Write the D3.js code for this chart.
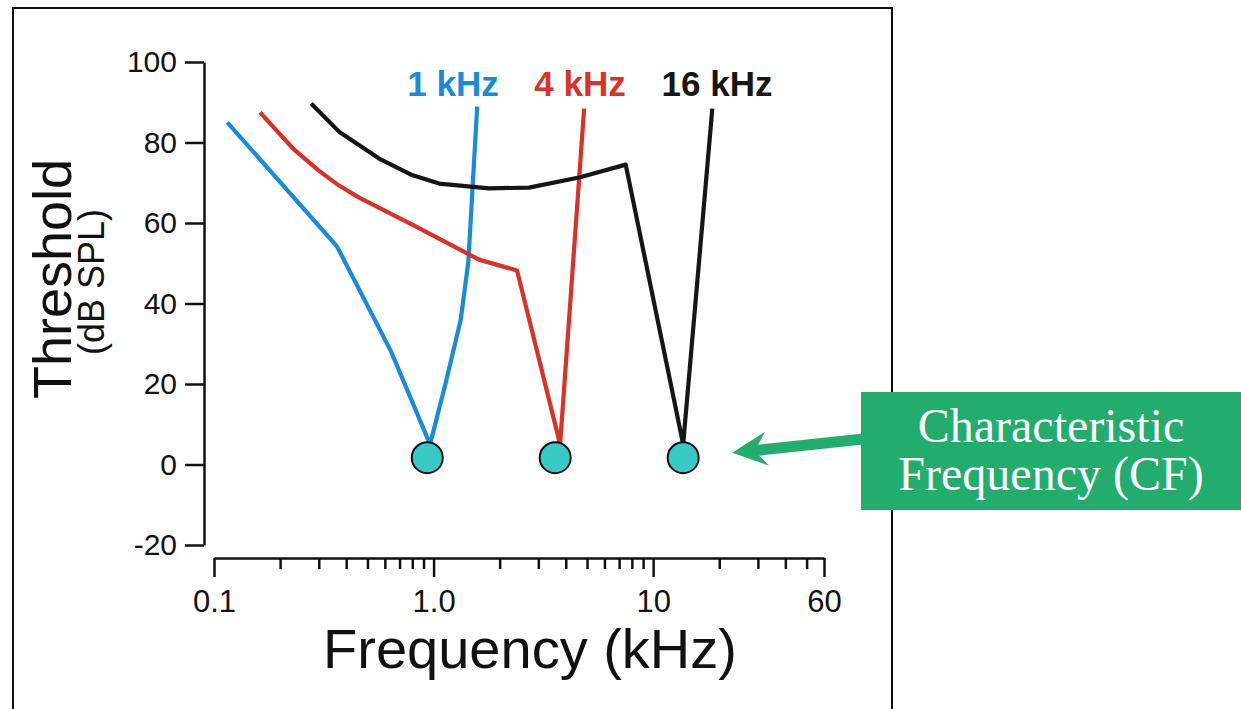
<!DOCTYPE html>
<html>
<head>
<meta charset="utf-8">
<script src="https://cdn.jsdelivr.net/npm/d3@7"></script>
<style>
  body { margin: 0; background: #fff; }
  svg { display: block; font-family: "Liberation Sans", Arial, Helvetica, sans-serif; }
</style>
</head>
<body>
<div class="container"></div>
<script>
const w = 1241;
const h = 709;

// tuning curve data (kHz, dB SPL)
const curveNames = ['1 kHz', '4 kHz', '16 kHz'];
const curveColors = ['#1a8bd8', '#d8322a', '#161616'];

const freq1k = [0.115, 0.363, 0.64, 0.964, 1.14, 1.33, 1.44, 1.58];
const db1k   = [85.0, 54.2, 28.1, 5.0, 20.6, 36.0, 50.4, 88.9];

const freq4k = [0.162, 0.229, 0.300, 0.371, 0.458, 0.80, 1.61, 2.40, 3.77, 4.85];
const db4k   = [87.5, 78.5, 73.0, 69.3, 66.3, 59.6, 50.9, 48.2, 5.0, 88.4];

const freq16k = [0.277, 0.371, 0.565, 0.79, 1.06, 1.79, 2.72, 4.6, 7.5, 13.7, 18.6];
const db16k   = [89.7, 82.7, 76.0, 72.0, 69.8, 68.6, 68.8, 71.3, 74.5, 5.0, 88.4];

// characteristic frequency markers
const cfFreq = [0.936, 3.58, 13.7];
const cfDb   = [1.7, 1.7, 1.7];

// axis ticks
const yTicks = [-20, 0, 20, 40, 60, 80, 100];
const xMajorTicks = [0.1, 1, 10, 60];
const xMajorLabels = ['0.1', '1.0', '10', '60'];
const xMinorTicks = [0.2, 0.3, 0.4, 0.5, 0.6, 0.7, 0.8, 0.9,
                     2, 3, 4, 5, 6, 7, 8, 9, 20, 30, 40, 50];

const series = [
  {f: freq1k, db: db1k},
  {f: freq4k, db: db4k},
  {f: freq16k, db: db16k}
];

const svg = d3.select('.container')
              .append('svg')
              .attr('width', w)
              .attr('height', h);

// outer frame
svg.append('rect')
   .attr('x', 13).attr('y', 8)
   .attr('width', 879).attr('height', 720)
   .style('fill', 'none')
   .style('stroke', '#111')
   .style('stroke-width', 2);

const xScale = d3.scaleLog()
                 .domain([0.1, 60])
                 .range([214, 824]);
const yScale = d3.scaleLinear()
                 .domain([-20, 100])
                 .range([545, 62]);

// y axis
const yAxis = d3.axisLeft(yScale)
                .tickValues(yTicks)
                .tickFormat(d => String(d))
                .tickSize(19)
                .tickSizeOuter(0)
                .tickPadding(8);
const gy = svg.append('g')
              .attr('transform', 'translate(204,0)')
              .call(yAxis);

// x axis (major then minor ticks)
const xAxis = d3.axisBottom(xScale)
                .tickValues(xMajorTicks)
                .tickFormat((d, i) => xMajorLabels[i])
                .tickSize(19)
                .tickSizeOuter(0)
                .tickPadding(13);
const gx = svg.append('g')
              .attr('transform', 'translate(0,558)')
              .call(xAxis);
const xMinor = d3.axisBottom(xScale)
                 .tickValues(xMinorTicks)
                 .tickFormat('')
                 .tickSize(11)
                 .tickSizeOuter(0);
const gxm = svg.append('g')
               .attr('transform', 'translate(0,558)')
               .call(xMinor);
gxm.select('.domain').remove();

[gy, gx, gxm].forEach(g => {
  g.selectAll('path, line').style('stroke', '#111').style('stroke-width', 2.5);
  g.selectAll('text').style('fill', '#111')
   .style('font-family', '"Liberation Sans", Arial, sans-serif');
});
gy.selectAll('text').style('font-size', '30px');
gx.selectAll('text').style('font-size', '31px');

// axis titles
svg.append('text')
   .text('Threshold')
   .attr('transform', 'translate(71,279) rotate(-90)')
   .attr('text-anchor', 'middle')
   .style('font-size', '54px')
   .style('fill', '#111');
svg.append('text')
   .text('(dB SPL)')
   .attr('transform', 'translate(104,282) rotate(-90)')
   .attr('text-anchor', 'middle')
   .style('font-size', '36px')
   .style('fill', '#111');
svg.append('text')
   .text('Frequency (kHz)')
   .attr('x', 530).attr('y', 668)
   .attr('text-anchor', 'middle')
   .style('font-size', '56px')
   .style('fill', '#111');

// curves
const line = d3.line()
               .x(d => xScale(d[0]))
               .y(d => yScale(d[1]));

svg.selectAll('path.curve')
   .data(series)
   .enter()
   .append('path')
   .attr('class', 'curve')
   .attr('d', s => line(s.f.map((f, i) => [f, s.db[i]])))
   .style('fill', 'none')
   .style('stroke', (s, i) => curveColors[i])
   .style('stroke-width', 4.2)
   .style('stroke-linejoin', 'round');

// curve labels
const labelX = [453, 580, 717];
svg.selectAll('text.curve-label')
   .data(curveNames)
   .enter()
   .append('text')
   .attr('class', 'curve-label')
   .attr('x', (d, i) => labelX[i])
   .attr('y', 96)
   .attr('text-anchor', 'middle')
   .text(d => d)
   .style('font-size', '35px')
   .style('font-weight', 'bold')
   .style('fill', (d, i) => curveColors[i]);

// CF dots
svg.selectAll('circle.cf')
   .data(cfFreq)
   .enter()
   .append('circle')
   .attr('class', 'cf')
   .attr('cx', d => xScale(d))
   .attr('cy', (d, i) => yScale(cfDb[i]))
   .attr('r', 15.5)
   .style('fill', '#37cbc8')
   .style('stroke', '#111')
   .style('stroke-width', 2);

// annotation box + arrow
const green = '#22ad6f';
const tipX = xScale(cfFreq[2]) + 49;
const tipY = yScale(cfDb[2]) - 5;
svg.append('path')
   .attr('d', `M${tipX},${tipY} L${tipX + 33},${tipY - 21} L${tipX + 26},${tipY - 8}
               L${861},${tipY - 19} L${861},${tipY - 8} L${tipX + 27},${tipY + 3}
               L${tipX + 37},${tipY + 13} Z`)
   .style('fill', green);

svg.append('rect')
   .attr('x', 861).attr('y', 392)
   .attr('width', 380).attr('height', 118)
   .style('fill', green);
svg.append('text')
   .attr('x', 1051).attr('y', 442)
   .attr('text-anchor', 'middle')
   .text('Characteristic')
   .style('font-family', '"Liberation Serif", "Times New Roman", serif')
   .style('font-size', '48px')
   .style('fill', '#fff');
svg.append('text')
   .attr('x', 1051).attr('y', 490)
   .attr('text-anchor', 'middle')
   .text('Frequency (CF)')
   .style('font-family', '"Liberation Serif", "Times New Roman", serif')
   .style('font-size', '48px')
   .style('fill', '#fff');
</script>
</body>
</html>
